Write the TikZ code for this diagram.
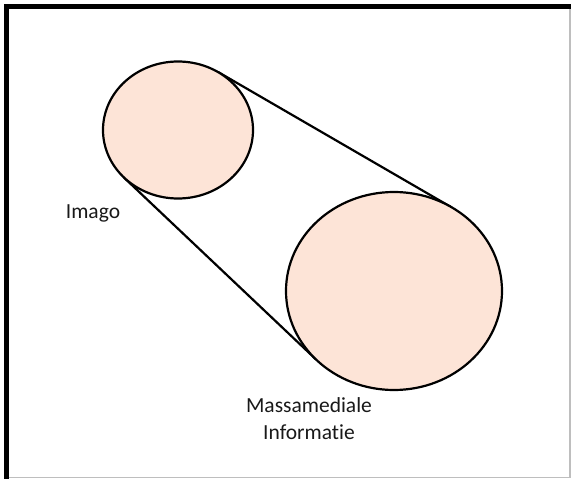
\documentclass[tikz,border=0pt]{standalone}
\usepackage{fontspec}
\setmainfont[Ligatures=NoCommon]{Carlito}
\usetikzlibrary{shapes.geometric}
\definecolor{peach}{RGB}{253,228,215}
\definecolor{framegray}{RGB}{190,190,190}
\begin{document}
\begin{tikzpicture}[x=1pt,y=-1pt,
  blob/.style={draw=black,fill=peach,line width=2.2pt},
  tangentline/.style={draw=black,line width=2.2pt},
  lbl/.style={font=\fontsize{21.5}{27}\selectfont,text=black!90,align=center,inner sep=0pt}]
\useasboundingbox (0,0) rectangle (571,479);
\fill[white] (0,0) rectangle (571,479);
% frame
\draw[framegray,line width=1.2pt] (570,6.5) -- (570,477.5) -- (6.5,477.5);
\draw[black,line width=4.5pt] (6.5,479) -- (6.5,6.5) -- (571,6.5);
% tangent points
\coordinate (s1) at (124.1,177.7);
\coordinate (b1) at (316.3,359.7);
\coordinate (s2) at (218.1,72.0);
\coordinate (b2) at (451.8,207.5);
\draw[tangentline] (s1) -- (b1);
\draw[tangentline] (s2) -- (b2);
\node[blob,ellipse,minimum width=150pt,minimum height=137pt,inner sep=0pt] (small) at (178,130) {};
\node[blob,ellipse,minimum width=216pt,minimum height=198pt,inner sep=0pt] (big) at (394,291) {};
\node[lbl] (imago) at (93,213) {Imago};
\node[lbl,anchor=north] (mass) at (309,397) {Massamediale\\Informatie};
\end{tikzpicture}
\end{document}
